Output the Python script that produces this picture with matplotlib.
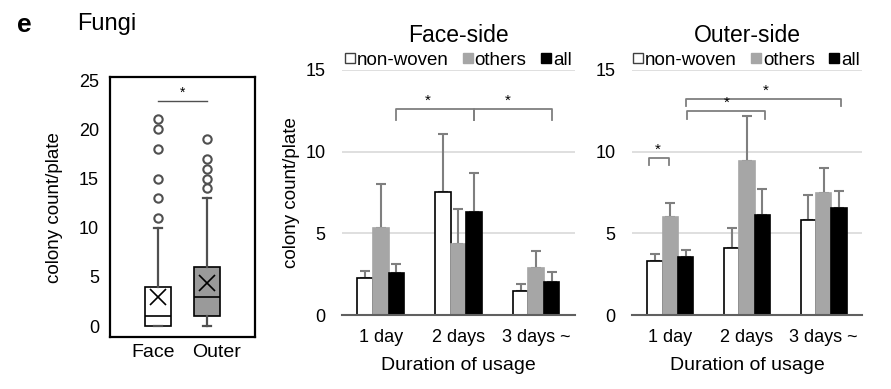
import numpy as np
import matplotlib
matplotlib.use('Agg')
import matplotlib.pyplot as plt
from matplotlib.lines import Line2D

plt.rcParams['font.family'] = ['Liberation Sans', 'DejaVu Sans']

# box plot data (Fungi, colony count/plate)
box_labels = ['Face', 'Outer']
box_q1 = [0, 1]
box_med = [1, 3]
box_q3 = [4, 6]
box_lo = [0, 0]
box_hi = [10, 13]
box_mean = [3.0, 4.4]
box_fliers = [[11, 13, 15, 18, 20, 21], [14, 15, 16, 17, 19]]

# bar chart data
days = ['1 day', '2 days', '3 days ~']
series = ['non-woven', 'others', 'all']
face_nw = [2.24, 7.51, 1.47]
face_nw_err = [0.45, 3.55, 0.43]
face_ot = [5.35, 4.37, 2.90]
face_ot_err = [2.65, 2.12, 1.02]
face_all = [2.59, 6.29, 2.04]
face_all_err = [0.51, 2.38, 0.57]
outer_nw = [3.30, 4.13, 5.82]
outer_nw_err = [0.41, 1.19, 1.53]
outer_ot = [6.01, 9.41, 7.47]
outer_ot_err = [0.87, 2.79, 1.55]
outer_all = [3.54, 6.15, 6.52]
outer_all_err = [0.45, 1.59, 1.06]

# significance brackets: (x1, x2, y, drop)
face_brackets = [(0.2, 1.2, 12.6, 0.66), (1.2, 2.2, 12.6, 0.66)]
face_stars = [(0.6, 12.7), (1.63, 12.7)]
outer_brackets = [(-0.28, -0.02, 9.61, 0.41), (0.22, 1.23, 12.48, 0.48), (0.21, 2.23, 13.24, 0.47)]
outer_stars = [(-0.16, 9.7), (0.73, 12.55), (1.24, 13.3)]

fill_cols = ['white', '#a6a6a6', 'black']
err_col = '#7f7f7f'

fig = plt.figure(figsize=(8.91, 3.89), dpi=100)

fig.text(0.019, 0.918, 'e', fontsize=19, fontweight='bold', va='baseline')
fig.text(0.087, 0.923, 'Fungi', fontsize=17, va='baseline')

# ---- box plot
axb = fig.add_axes([0.1235, 0.1337, 0.1627, 0.668])
stats = []
for i in range(2):
    stats.append(dict(label=box_labels[i], q1=box_q1[i], med=box_med[i], q3=box_q3[i],
                      whislo=box_lo[i], whishi=box_hi[i], mean=box_mean[i], fliers=box_fliers[i]))
bp = axb.bxp(stats, positions=[1, 2], widths=0.52, patch_artist=True, showmeans=True,
             capwidths=0.16,
             boxprops=dict(edgecolor='black', linewidth=1.2),
             medianprops=dict(color='black', linewidth=1.2),
             whiskerprops=dict(color='#505050', linewidth=1.6),
             capprops=dict(color='#505050', linewidth=1.6),
             meanprops=dict(marker='x', markersize=12, markeredgecolor='black', markeredgewidth=1.2),
             flierprops=dict(marker='o', markerfacecolor='white', markeredgecolor='#505050',
                             markersize=6, markeredgewidth=1.5))
bp['boxes'][0].set_facecolor('white')
bp['boxes'][1].set_facecolor('#9a9a9a')
axb.set_xlim(0.02, 2.98)
axb.set_ylim(-1.1, 25.3)
axb.set_yticks([0, 5, 10, 15, 20, 25])
# category labels sit a little outside the box centres, as in the source figure
axb.set_xticks([0.9, 2.2])
axb.set_xticklabels(box_labels)
axb.tick_params(axis='y', length=0, labelsize=13, pad=8)
axb.tick_params(axis='x', length=0, labelsize=14, pad=5)
for s in axb.spines.values():
    s.set_linewidth(1.6)
axb.set_ylabel('colony count/plate', fontsize=13.5)
axb.yaxis.set_label_coords(-0.324, 0.5)
axb.plot([1, 2], [22.9, 22.9], color='#505050', lw=1.0)
axb.text(1.5, 22.95, '*', ha='center', va='bottom', fontsize=10)


def bar_panel(ax, title, vals, errs, brackets, stars):
    x = np.arange(len(days))
    w = 0.2
    for k in range(3):
        xs = x + (k - 1) * w
        ax.bar(xs, vals[k], w, color=fill_cols[k],
               edgecolor='black' if k != 1 else fill_cols[k], linewidth=1.2, zorder=3)
        ax.errorbar(xs, vals[k], yerr=[np.zeros(3), errs[k]], fmt='none', ecolor=err_col,
                    elinewidth=1.5, capsize=3.3, capthick=1.5, zorder=2)
    ax.set_xlim(-0.5, 2.5)
    ax.set_ylim(0, 15)
    ax.set_yticks([0, 5, 10, 15])
    ax.yaxis.grid(True, color='#d9d9d9', linewidth=1.2)
    ax.set_axisbelow(True)
    for s in ['top', 'right', 'left']:
        ax.spines[s].set_visible(False)
    ax.spines['bottom'].set_color('#606060')
    ax.spines['bottom'].set_linewidth(1.5)
    ax.spines['bottom'].set_zorder(4)
    ax.set_xticks(x)
    ax.set_xticklabels(days)
    ax.tick_params(axis='x', length=0, labelsize=13, pad=10)
    ax.tick_params(axis='y', length=0, labelsize=13, pad=12)
    ax.set_xlabel('Duration of usage', fontsize=14)
    ax.xaxis.set_label_coords(0.5, -0.204)
    ax.xaxis.label.set_va('center')
    ax.text(0.5, 1.1155, title, transform=ax.transAxes, ha='center', va='baseline', fontsize=16.5)
    for x1, x2, y, d in brackets:
        ax.plot([x1, x1, x2, x2], [y - d, y, y, y - d], color=err_col, lw=1.3, clip_on=False)
    for sx, sy in stars:
        ax.text(sx, sy, '*', ha='center', va='bottom', fontsize=11)
    handles = [Line2D([], [], marker='s', linestyle='none', markersize=6.5,
                      markerfacecolor=fill_cols[k],
                      markeredgecolor='#404040' if k == 0 else fill_cols[k],
                      markeredgewidth=1.0) for k in range(3)]
    ax.legend(handles, series, loc='center', bbox_to_anchor=(0.5, 1.04), ncol=3,
              frameon=False, fontsize=13.5, handlelength=0.45, handletextpad=0.15,
              columnspacing=0.8, borderpad=0, borderaxespad=0)


axf = fig.add_axes([0.3838, 0.1902, 0.2615, 0.630])
bar_panel(axf, 'Face-side', [face_nw, face_ot, face_all],
          [face_nw_err, face_ot_err, face_all_err], face_brackets, face_stars)
axf.set_ylabel('colony count/plate', fontsize=13.5)
axf.yaxis.set_label_coords(-0.18, 0.5)

axo = fig.add_axes([0.7093, 0.1902, 0.258, 0.630])
bar_panel(axo, 'Outer-side', [outer_nw, outer_ot, outer_all],
          [outer_nw_err, outer_ot_err, outer_all_err], outer_brackets, outer_stars)

fig.savefig('out.png', dpi=100)
